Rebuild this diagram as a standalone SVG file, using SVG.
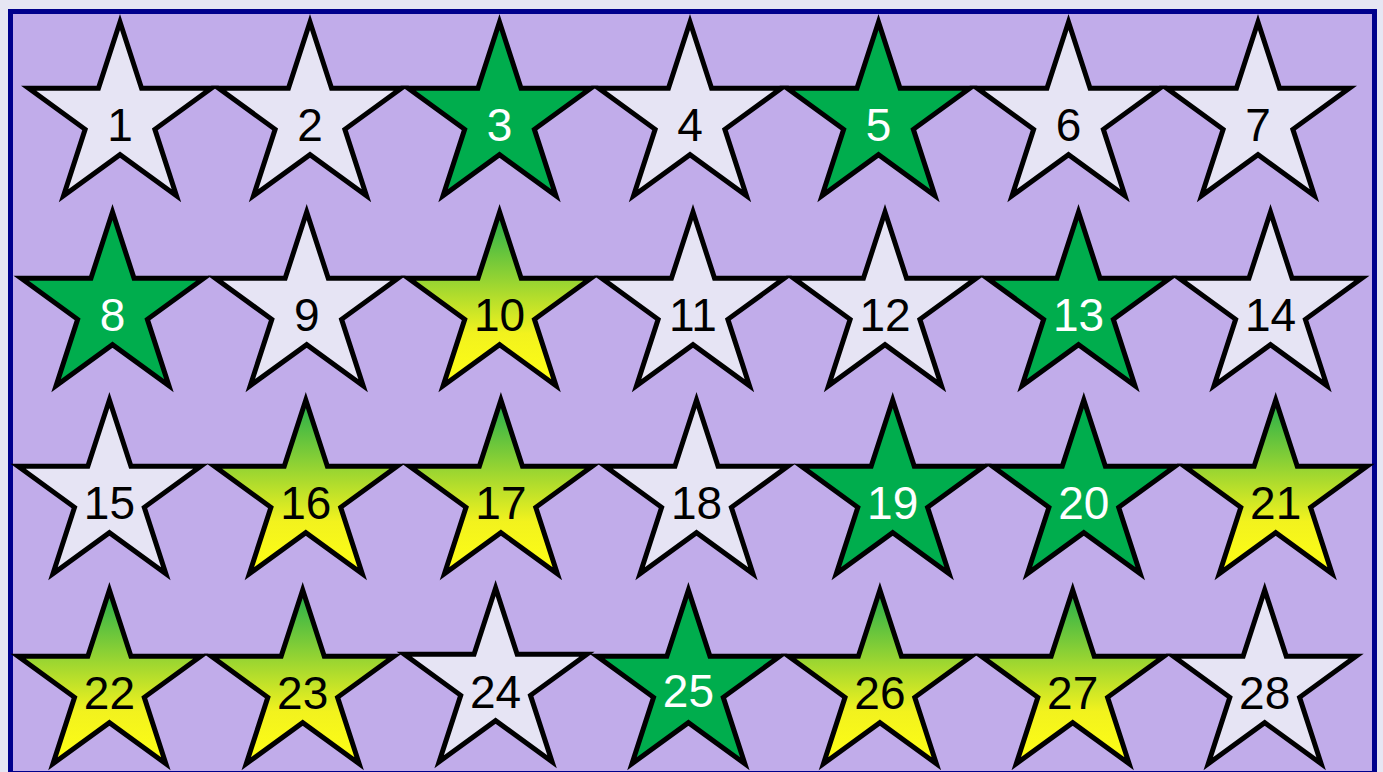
<svg xmlns="http://www.w3.org/2000/svg" xmlns:xlink="http://www.w3.org/1999/xlink" width="1383" height="772" viewBox="0 0 1383 772">
<style>
.s{stroke:#000;stroke-width:5;stroke-linejoin:miter}
.l{fill:#e6e4f4}
.g{fill:#00ad4d}
.y{fill:url(#gy)}
text{font-family:"Liberation Sans",Arial,sans-serif;font-size:46px;text-anchor:middle}
.tb{fill:#000}
.tw{fill:#fff}
</style>
<defs>
<linearGradient id="gy" x1="0" y1="0" x2="0" y2="1">
<stop offset="0" stop-color="#20ad4c"/>
<stop offset="0.7" stop-color="#f2f21e"/>
<stop offset="1" stop-color="#ffff14"/>
</linearGradient>
<path id="star" d="M0,-96 L21.55,-29.67 L91.3,-29.67 L34.87,11.33 L56.43,77.67 L0,36.67 L-56.43,77.67 L-34.87,11.33 L-91.3,-29.67 L-21.55,-29.67 Z"/>
</defs>
<rect x="0" y="0" width="1383" height="772" fill="#e6e6f3"/>
<rect x="10.5" y="11.5" width="1364" height="762" fill="#c1acea" stroke="#00008c" stroke-width="5"/>
<g id="connectors"/>
<g id="star-1"><use href="#star" x="120" y="118" class="s l"/><text x="120" y="141" class="tb">1</text></g>
<g id="star-2"><use href="#star" x="310" y="118" class="s l"/><text x="310" y="141" class="tb">2</text></g>
<g id="star-3"><use href="#star" x="499.5" y="118" class="s g"/><text x="499.5" y="141" class="tw">3</text></g>
<g id="star-4"><use href="#star" x="690" y="118" class="s l"/><text x="690" y="141" class="tb">4</text></g>
<g id="star-5"><use href="#star" x="878.5" y="118" class="s g"/><text x="878.5" y="141" class="tw">5</text></g>
<g id="star-6"><use href="#star" x="1068.5" y="118" class="s l"/><text x="1068.5" y="141" class="tb">6</text></g>
<g id="star-7"><use href="#star" x="1258" y="118" class="s l"/><text x="1258" y="141" class="tb">7</text></g>
<g id="star-8"><use href="#star" x="112.5" y="308" class="s g"/><text x="112.5" y="331" class="tw">8</text></g>
<g id="star-9"><use href="#star" x="306.7" y="308" class="s l"/><text x="306.7" y="331" class="tb">9</text></g>
<g id="star-10"><use href="#star" x="499.6" y="308" class="s y"/><text x="499.6" y="331" class="tb">10</text></g>
<g id="star-11"><use href="#star" x="693" y="308" class="s l"/><text x="693" y="331" class="tb">11</text></g>
<g id="star-12"><use href="#star" x="885" y="308" class="s l"/><text x="885" y="331" class="tb">12</text></g>
<g id="star-13"><use href="#star" x="1078.5" y="308" class="s g"/><text x="1078.5" y="331" class="tw">13</text></g>
<g id="star-14"><use href="#star" x="1270.5" y="308" class="s l"/><text x="1270.5" y="331" class="tb">14</text></g>
<g id="star-15"><use href="#star" x="109.4" y="496" class="s l"/><text x="109.4" y="519" class="tb">15</text></g>
<g id="star-16"><use href="#star" x="305.8" y="496" class="s y"/><text x="305.8" y="519" class="tb">16</text></g>
<g id="star-17"><use href="#star" x="500.9" y="496" class="s y"/><text x="500.9" y="519" class="tb">17</text></g>
<g id="star-18"><use href="#star" x="696.5" y="496" class="s l"/><text x="696.5" y="519" class="tb">18</text></g>
<g id="star-19"><use href="#star" x="892.7" y="496" class="s g"/><text x="892.7" y="519" class="tw">19</text></g>
<g id="star-20"><use href="#star" x="1083.8" y="496" class="s g"/><text x="1083.8" y="519" class="tw">20</text></g>
<g id="star-21"><use href="#star" x="1275.7" y="496" class="s y"/><text x="1275.7" y="519" class="tb">21</text></g>
<g id="star-22"><use href="#star" x="109.4" y="686" class="s y"/><text x="109.4" y="709" class="tb">22</text></g>
<g id="star-23"><use href="#star" x="302.7" y="686" class="s y"/><text x="302.7" y="709" class="tb">23</text></g>
<g id="star-24"><use href="#star" x="495.6" y="684" class="s l"/><text x="495.6" y="708" class="tb">24</text></g>
<g id="star-25"><use href="#star" x="688.4" y="686" class="s g"/><text x="688.4" y="707" class="tw">25</text></g>
<g id="star-26"><use href="#star" x="879.9" y="686" class="s y"/><text x="879.9" y="709" class="tb">26</text></g>
<g id="star-27"><use href="#star" x="1072.7" y="686" class="s y"/><text x="1072.7" y="709" class="tb">27</text></g>
<g id="star-28"><use href="#star" x="1264.7" y="686" class="s l"/><text x="1264.7" y="709" class="tb">28</text></g>
</svg>
